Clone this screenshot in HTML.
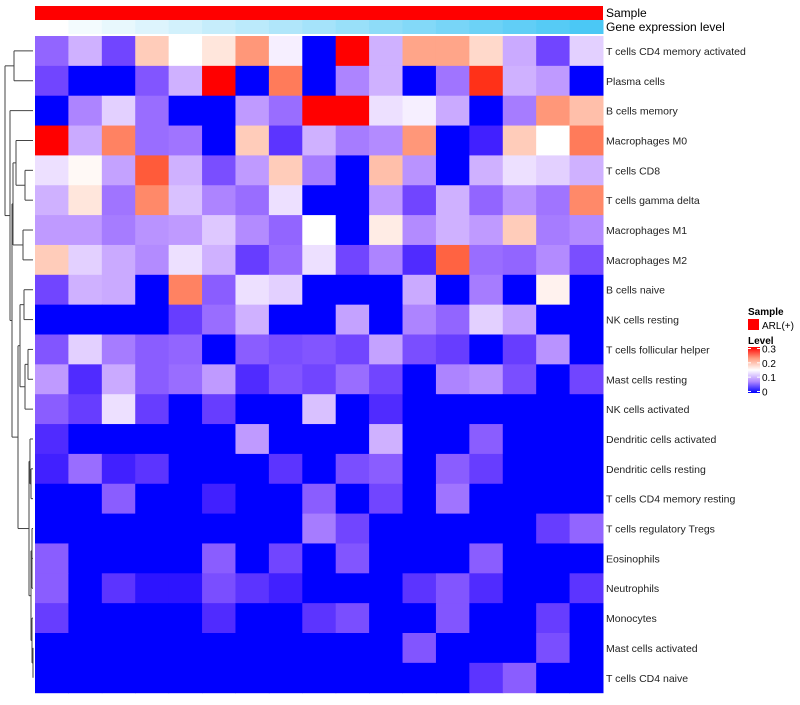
<!DOCTYPE html>
<html><head><meta charset="utf-8">
<style>
body{margin:0;background:#fff;font-family:"Liberation Sans",sans-serif;}
svg text{font-family:"Liberation Sans",sans-serif;}
</style></head>
<body>
<svg id="chart" width="800" height="700"></svg>
<script>
const rowLabels=["T cells CD4 memory activated","Plasma cells","B cells memory","Macrophages M0","T cells CD8","T cells gamma delta","Macrophages M1","Macrophages M2","B cells naive","NK cells resting","T cells follicular helper","Mast cells resting","NK cells activated","Dendritic cells activated","Dendritic cells resting","T cells CD4 memory resting","T cells regulatory  Tregs","Eosinophils","Neutrophils","Monocytes","Mast cells activated","T cells CD4 naive"];
const geneLevel=[0,1,2,3,4,5,6,7,8,9,10,11,12,13,14,15,16];
const r0=[0.05,0.1,0.03,0.19,0.15,0.17,0.23,0.14,0,0.3,0.1,0.22,0.22,0.18,0.095,0.03,0.12];
const r1=[0.03,0,0,0.04,0.1,0.3,0,0.25,0,0.07,0.1,0,0.06,0.29,0.1,0.085,0];
const r2=[0,0.07,0.12,0.055,0,0,0.085,0.055,0.3,0.3,0.13,0.14,0.095,0,0.065,0.23,0.2];
const r3=[0.3,0.095,0.245,0.055,0.06,0,0.19,0.02,0.1,0.065,0.075,0.23,0,0.01,0.19,0.15,0.25];
const r4=[0.13,0.155,0.09,0.27,0.1,0.035,0.085,0.19,0.065,0,0.2,0.08,0,0.1,0.13,0.12,0.1];
const r5=[0.1,0.17,0.06,0.24,0.11,0.07,0.055,0.13,0,0,0.085,0.03,0.1,0.05,0.08,0.06,0.24];
const r6=[0.085,0.085,0.065,0.08,0.085,0.115,0.075,0.05,0.15,0,0.165,0.075,0.1,0.085,0.19,0.065,0.075];
const r7=[0.19,0.12,0.095,0.075,0.13,0.1,0.025,0.055,0.13,0.03,0.07,0.015,0.265,0.055,0.05,0.075,0.035];
const r8=[0.03,0.1,0.095,0,0.245,0.045,0.13,0.12,0,0,0,0.095,0,0.065,0,0.16,0];
const r9=[0,0,0,0,0.025,0.055,0.1,0,0,0.09,0,0.07,0.05,0.12,0.09,0,0];
const r10=[0.04,0.12,0.065,0.045,0.05,0,0.045,0.035,0.04,0.03,0.09,0.035,0.025,0,0.025,0.08,0];
const r11=[0.085,0.015,0.095,0.045,0.055,0.085,0.015,0.04,0.03,0.055,0.03,0,0.07,0.08,0.035,0,0.03];
const r12=[0.045,0.025,0.13,0.025,0,0.025,0,0,0.11,0,0.015,0,0,0,0,0,0];
const r13=[0.015,0,0,0,0,0,0.085,0,0,0,0.1,0,0,0.045,0,0,0];
const r14=[0.01,0.055,0.01,0.02,0,0,0,0.02,0,0.035,0.045,0,0.045,0.025,0,0,0];
const r15=[0,0,0.045,0,0,0.01,0,0,0.045,0,0.03,0,0.06,0,0,0,0];
const r16=[0,0,0,0,0,0,0,0,0.065,0.03,0,0,0,0,0,0.025,0.05];
const r17=[0.045,0,0,0,0,0.045,0,0.03,0,0.04,0,0,0,0.045,0,0,0];
const r18=[0.045,0,0.02,0.005,0.005,0.035,0.02,0.01,0,0,0,0.02,0.04,0.015,0,0,0.02];
const r19=[0.025,0,0,0,0,0.015,0,0,0.02,0.035,0,0,0.04,0,0,0.025,0];
const r20=[0,0,0,0,0,0,0,0,0,0,0,0.04,0,0,0,0.035,0];
const r21=[0,0,0,0,0,0,0,0,0,0,0,0,0,0.02,0.045,0,0];
const values=[r0,r1,r2,r3,r4,r5,r6,r7,r8,r9,r10,r11,r12,r13,r14,r15,r16,r17,r18,r19,r20,r21];
const legendTicks=[0,0.1,0.2,0.3];

const NS="http://www.w3.org/2000/svg";
const svg=document.getElementById('chart');
function el(t,a,p){const e=document.createElementNS(NS,t);for(const k in a)e.setAttribute(k,a[k]);(p||svg).appendChild(e);return e;}
const X0=35,X1=603,Y0=36,RH=29.85;
const nC=r0.length,CW=(X1-X0)/nC;
const xAt=i=>X0+i*CW, yAt=i=>Y0+i*RH;
// LAB interpolation
function toLin(c){c/=255;return c<=0.04045?c/12.92:Math.pow((c+0.055)/1.055,2.4);}
function fromLin(c){c=c<=0.0031308?12.92*c:1.055*Math.pow(c,1/2.4)-0.055;return Math.round(Math.max(0,Math.min(1,c))*255);}
function rgb2lab(r,g,b){r=toLin(r);g=toLin(g);b=toLin(b);
 let X=(0.4124*r+0.3576*g+0.1805*b)/0.95047,Y=0.2126*r+0.7152*g+0.0722*b,Z=(0.0193*r+0.1192*g+0.9505*b)/1.08883;
 const f=t=>t>0.008856?Math.cbrt(t):7.787*t+16/116;
 const fx=f(X),fy=f(Y),fz=f(Z);return [116*fy-16,500*(fx-fy),200*(fy-fz)];}
function lab2rgb(L,a,b){const fy=(L+16)/116,fx=fy+a/500,fz=fy-b/200;
 const fi=t=>t*t*t>0.008856?t*t*t:(t-16/116)/7.787;
 const X=fi(fx)*0.95047,Y=fi(fy),Z=fi(fz)*1.08883;
 const r=3.2406*X-1.5372*Y-0.4986*Z,g=-0.9689*X+1.8758*Y+0.0415*Z,bb=0.0557*X-0.2040*Y+1.0570*Z;
 return `rgb(${fromLin(r)},${fromLin(g)},${fromLin(bb)})`;}
const LB=rgb2lab(0,0,255),LW=rgb2lab(255,255,255),LR=rgb2lab(255,0,0);
function col(v){
  const t=Math.max(0,Math.min(1,v/0.3));
  let A,B,u;
  if(t<0.5){A=LB;B=LW;u=t/0.5;}else{A=LW;B=LR;u=(t-0.5)/0.5;}
  return lab2rgb(A[0]+(B[0]-A[0])*u,A[1]+(B[1]-A[1])*u,A[2]+(B[2]-A[2])*u);
}
function geneCol(v){const u=v/16;return `rgb(${(255-u*180)|0},${(255-u*55)|0},${(255-u*10)|0})`;}
let e=el('rect',{x:X0,y:6,width:X1-X0,height:14,fill:'#ff0000'});


geneLevel.forEach((v,i)=>{const r=el('rect',{x:xAt(i),y:20,width:CW+0.5,height:14,fill:geneCol(v)});

});
e=el('text',{x:606,y:17,'font-size':12,fill:'#000'});e.textContent='Sample';


e=el('text',{x:606,y:31,'font-size':12,fill:'#000'});e.textContent='Gene expression level';


values.forEach((row,ri)=>{row.forEach((v,ci)=>{
  const r=el('rect',{x:xAt(ci),y:yAt(ri),width:CW+0.5,height:RH+0.5,fill:col(v)});
  
  
});
  const t=el('text',{x:606,y:yAt(ri)+RH/2+4,'font-size':10.5,fill:'#222'});t.textContent=rowLabels[ri];
  
  
});
const tree={x:5,c:[{x:14,c:[0,1]},{x:10,c:[2,{x:12,c:[{x:13,c:[{x:16,c:[3,{x:25,c:[4,5]}]},{x:23,c:[6,7]}]},{x:18,c:[{x:20,c:[{x:24,c:[8,9]},{x:25,c:[{x:28,c:[10,11]},12]}]},{x:29,c:[{x:30,c:[13,{x:31,c:[14,15]}]},{x:31,c:[{x:32,c:[16,{x:32,c:[17,18]}]},{x:32,c:[19,{x:33,c:[20,21]}]}]}]}]}]}]}]};
const dg=el('g',{stroke:'#444','stroke-width':1,fill:'none'});


function draw(n){
  if(typeof n==='number')return {x:33,y:yAt(n)+RH/2};
  const a=draw(n.c[0]),b=draw(n.c[1]);
  el('line',{x1:n.x,y1:a.y,x2:a.x,y2:a.y},dg);
  el('line',{x1:n.x,y1:b.y,x2:b.x,y2:b.y},dg);
  el('line',{x1:n.x,y1:a.y,x2:n.x,y2:b.y},dg);
  return {x:n.x,y:(a.y+b.y)/2};
}
draw(tree);
const lg=el('g',{});


let t=el('text',{x:748,y:315,'font-size':10,'font-weight':'bold'},lg);t.textContent='Sample';
el('rect',{x:748,y:319,width:11,height:11,fill:'#ff0000'},lg);
t=el('text',{x:762,y:329,'font-size':10},lg);t.textContent='ARL(+)';
t=el('text',{x:748,y:344,'font-size':10,'font-weight':'bold'},lg);t.textContent='Level';
const defs=el('defs',{});
const gr=el('linearGradient',{id:'lv',x1:0,y1:1,x2:0,y2:0},defs);
[0,0.25,0.5,0.75,1].forEach(o=>el('stop',{offset:o,'stop-color':col(o*0.3)},gr));
const bTop=347,bBot=393;
el('rect',{x:748,y:bTop,width:12,height:bBot-bTop,fill:'url(#lv)'},lg);
legendTicks.forEach(v=>{const y=bBot-(v/0.3)*(bBot-bTop-3)-1.5;
  el('line',{x1:748,x2:751,y1:y,y2:y,stroke:'#fff'},lg);el('line',{x1:757,x2:760,y1:y,y2:y,stroke:'#fff'},lg);
  const tt=el('text',{x:762,y:y+4,'font-size':10},lg);tt.textContent=v===0?'0':v.toFixed(1);
  
  
});
</script>
</body></html>
